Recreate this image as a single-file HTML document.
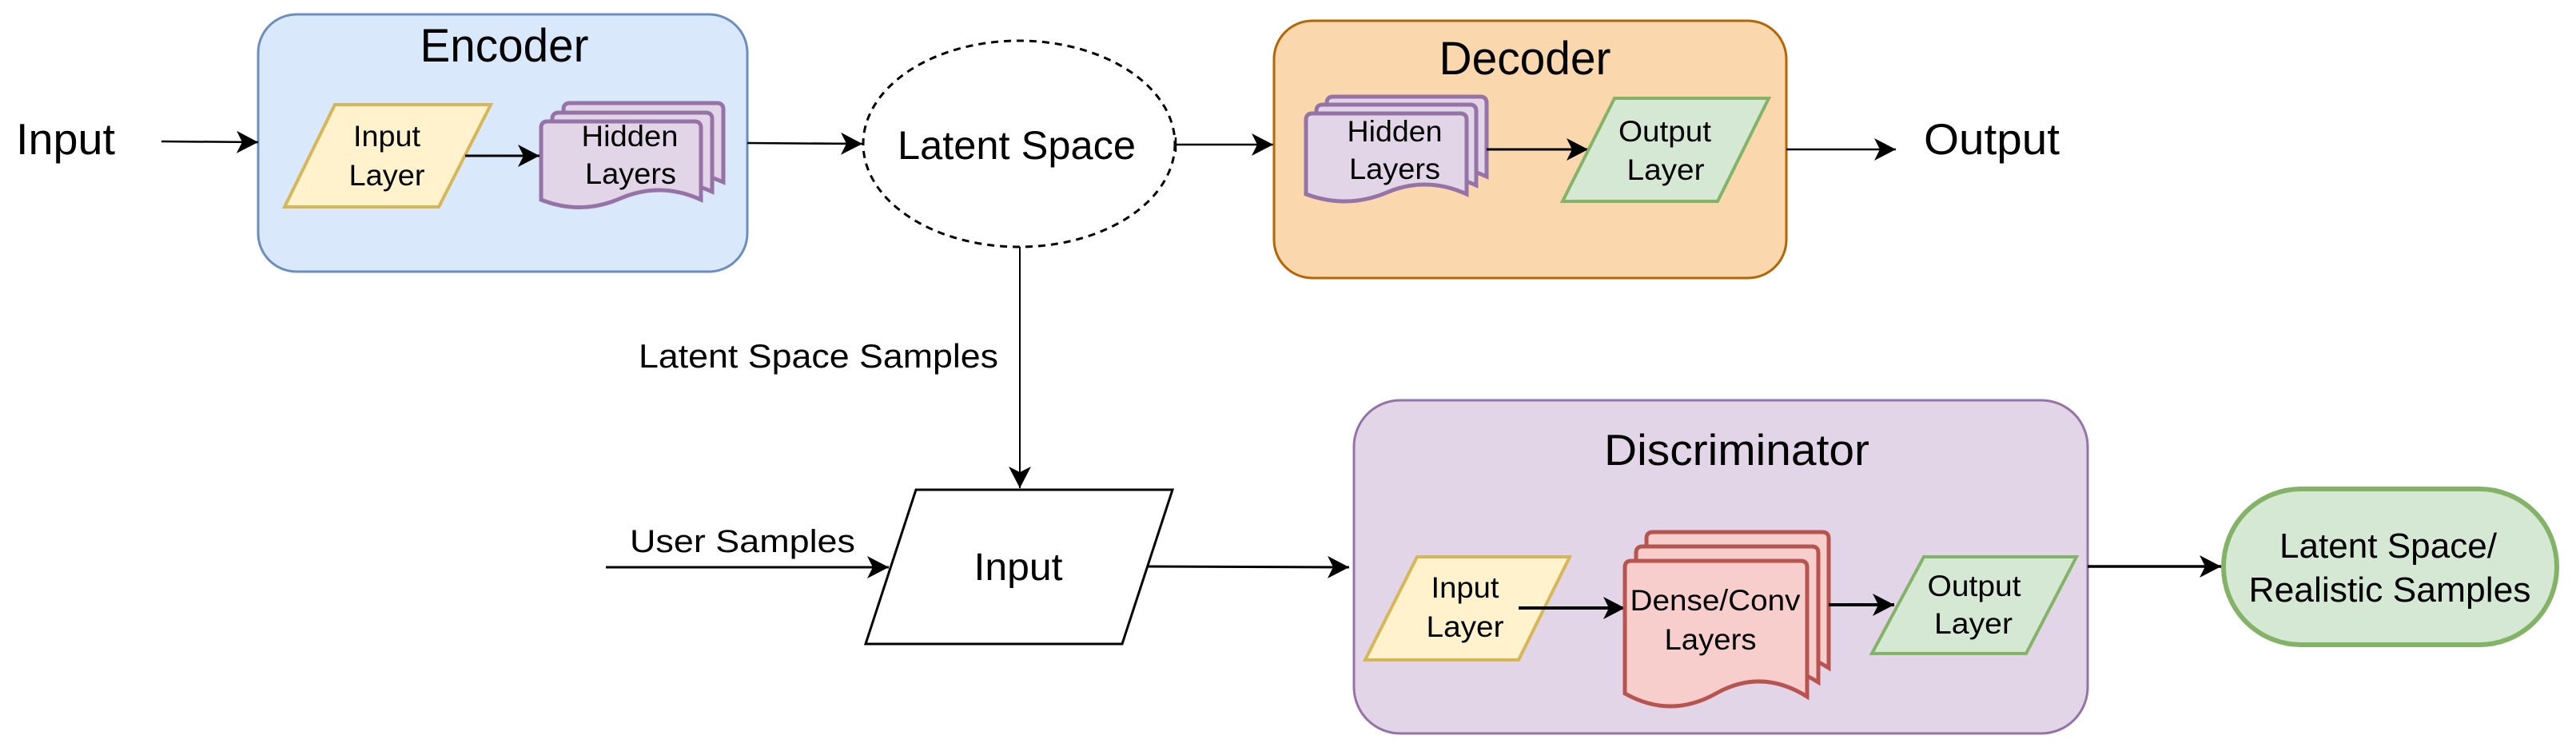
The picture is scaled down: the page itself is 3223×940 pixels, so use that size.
<!DOCTYPE html>
<html><head><meta charset="utf-8"><style>
html,body{margin:0;padding:0;background:#fff;}
svg{display:block}
text{font-family:"Liberation Sans",Arial,sans-serif;fill:#000}
</style></head><body>
<svg width="3223" height="940" viewBox="0 0 3223 940" xmlns="http://www.w3.org/2000/svg">
<defs>
<marker id="ah" markerUnits="userSpaceOnUse" markerWidth="30" markerHeight="30" refX="27" refY="14" orient="auto">
<path d="M0,0 L27,14 L0,28 L7,14 Z" fill="#000"/>
</marker>
</defs>

<!-- Encoder -->
<rect x="323" y="18" width="612" height="322" rx="48" fill="#dae8fc" stroke="#6c8ebf" stroke-width="3"/>
<text x="631" y="77" font-size="58" text-anchor="middle" textLength="211" lengthAdjust="spacingAndGlyphs">Encoder</text>
<polygon points="419,131 614,131 549,259 356,259" fill="#fff2cc" stroke="#d6b656" stroke-width="4"/>
<text x="484" y="183" font-size="37" text-anchor="middle" textLength="84" lengthAdjust="spacingAndGlyphs">Input</text>
<text x="484" y="232" font-size="37" text-anchor="middle" textLength="95" lengthAdjust="spacingAndGlyphs">Layer</text>
<g fill="#e1d5e7" stroke="#9673a6" stroke-width="5">
<path d="M705,137 Q705,129 713,129 L897,129 Q905,129 905,137 L905,228 Q855,205 805,228 Q755,251 705,228 Z"/>
<path d="M691,149 Q691,141 699,141 L883,141 Q891,141 891,149 L891,240 Q841,217 791,240 Q741,263 691,240 Z"/>
<path d="M677,160 Q677,152 685,152 L869,152 Q877,152 877,160 L877,250 Q827,227 777,248 Q727,270 677,250 Z"/>
</g>
<text x="788" y="183" font-size="37" text-anchor="middle" textLength="121" lengthAdjust="spacingAndGlyphs">Hidden</text>
<text x="789" y="230" font-size="37" text-anchor="middle" textLength="114" lengthAdjust="spacingAndGlyphs">Layers</text>
<line x1="582" y1="195" x2="675" y2="195" stroke="#000" stroke-width="3" marker-end="url(#ah)"/>

<!-- Input label + arrow -->
<text x="20" y="193" font-size="55" textLength="124" lengthAdjust="spacingAndGlyphs">Input</text>
<line x1="202" y1="177" x2="323" y2="178" stroke="#000" stroke-width="2.5" marker-end="url(#ah)"/>
<line x1="935" y1="179" x2="1079" y2="180" stroke="#000" stroke-width="2.5" marker-end="url(#ah)"/>

<!-- Latent space -->
<ellipse cx="1275" cy="180" rx="195" ry="129" fill="#fff" stroke="#000" stroke-width="3" stroke-dasharray="9 7"/>
<text x="1272" y="199" font-size="50" text-anchor="middle" textLength="298" lengthAdjust="spacingAndGlyphs">Latent Space</text>
<line x1="1471" y1="181" x2="1593" y2="181" stroke="#000" stroke-width="2.5" marker-end="url(#ah)"/>
<line x1="1471" y1="172" x2="1471" y2="190" stroke="#000" stroke-width="2.5"/>

<!-- Decoder -->
<rect x="1594" y="26" width="641" height="322" rx="48" fill="#fad7ac" stroke="#b46504" stroke-width="3"/>
<text x="1908" y="93" font-size="58" text-anchor="middle" textLength="215" lengthAdjust="spacingAndGlyphs">Decoder</text>
<g fill="#e1d5e7" stroke="#9673a6" stroke-width="5">
<path d="M1660,129 Q1660,121 1668,121 L1852,121 Q1860,121 1860,129 L1860,221 Q1810,198 1760,221 Q1710,244 1660,221 Z"/>
<path d="M1647,139 Q1647,131 1655,131 L1839,131 Q1847,131 1847,139 L1847,232 Q1797,209 1747,232 Q1697,255 1647,232 Z"/>
<path d="M1634,150 Q1634,142 1642,142 L1827,142 Q1835,142 1835,150 L1835,243 Q1785,220 1735,241 Q1685,262 1634,243 Z"/>
</g>
<text x="1745" y="177" font-size="37" text-anchor="middle" textLength="119" lengthAdjust="spacingAndGlyphs">Hidden</text>
<text x="1745" y="224" font-size="37" text-anchor="middle" textLength="114" lengthAdjust="spacingAndGlyphs">Layers</text>
<line x1="1860" y1="187" x2="1987" y2="187" stroke="#000" stroke-width="3" marker-end="url(#ah)"/>
<polygon points="2020,123 2213,123 2149,252 1955,252" fill="#d5e8d4" stroke="#82b366" stroke-width="4"/>
<text x="2083" y="177" font-size="37" text-anchor="middle" textLength="116" lengthAdjust="spacingAndGlyphs">Output</text>
<text x="2084" y="225" font-size="37" text-anchor="middle" textLength="97" lengthAdjust="spacingAndGlyphs">Layer</text>
<line x1="2235" y1="187" x2="2372" y2="187" stroke="#000" stroke-width="2.5" marker-end="url(#ah)"/>
<text x="2407" y="193" font-size="55" textLength="170" lengthAdjust="spacingAndGlyphs">Output</text>

<!-- Vertical connector -->
<line x1="1276" y1="309" x2="1276" y2="611" stroke="#000" stroke-width="2" marker-end="url(#ah)"/>
<text x="799" y="460" font-size="42" textLength="450" lengthAdjust="spacingAndGlyphs">Latent Space Samples</text>

<!-- Input parallelogram -->
<polygon points="1146,613 1467,613 1404,806 1083,806" fill="#fff" stroke="#000" stroke-width="3"/>
<text x="1274" y="726" font-size="48" text-anchor="middle" textLength="111" lengthAdjust="spacingAndGlyphs">Input</text>
<text x="788" y="691" font-size="40" textLength="282" lengthAdjust="spacingAndGlyphs">User Samples</text>
<line x1="758" y1="710" x2="1112" y2="710" stroke="#000" stroke-width="3" marker-end="url(#ah)"/>
<line x1="1436" y1="709" x2="1688" y2="710" stroke="#000" stroke-width="3" marker-end="url(#ah)"/>

<!-- Discriminator -->
<rect x="1694" y="501" width="918" height="417" rx="58" fill="#e1d5e7" stroke="#9673a6" stroke-width="3"/>
<text x="2173" y="582" font-size="55" text-anchor="middle" textLength="332" lengthAdjust="spacingAndGlyphs">Discriminator</text>
<polygon points="1773,697 1964,697 1900,826 1708,826" fill="#fff2cc" stroke="#d6b656" stroke-width="4"/>
<text x="1833" y="748" font-size="37" text-anchor="middle" textLength="85" lengthAdjust="spacingAndGlyphs">Input</text>
<text x="1833" y="797" font-size="37" text-anchor="middle" textLength="97" lengthAdjust="spacingAndGlyphs">Layer</text>
<line x1="1900" y1="761" x2="2033" y2="761" stroke="#000" stroke-width="4" marker-end="url(#ah)"/>
<g fill="#f8cecc" stroke="#b85450" stroke-width="5">
<path d="M2060,674 Q2060,666 2068,666 L2280,666 Q2288,666 2288,674 L2288,836 Q2231,800 2174,836 Q2117,872 2060,836 Z"/>
<path d="M2047,692 Q2047,684 2055,684 L2267,684 Q2275,684 2275,692 L2275,854 Q2218,818 2161,854 Q2104,890 2047,854 Z"/>
<path d="M2033,710 Q2033,702 2041,702 L2253,702 Q2261,702 2261,710 L2261,872 Q2204,836 2147,868 Q2090,900 2033,868 Z"/>
</g>
<text x="2146" y="764" font-size="37" text-anchor="middle" textLength="213" lengthAdjust="spacingAndGlyphs">Dense/Conv</text>
<text x="2140" y="813" font-size="37" text-anchor="middle" textLength="115" lengthAdjust="spacingAndGlyphs">Layers</text>
<line x1="2288" y1="757" x2="2370" y2="757" stroke="#000" stroke-width="4" marker-end="url(#ah)"/>
<polygon points="2407,697 2598,697 2535,818 2342,818" fill="#d5e8d4" stroke="#82b366" stroke-width="4"/>
<text x="2470" y="746" font-size="37" text-anchor="middle" textLength="117" lengthAdjust="spacingAndGlyphs">Output</text>
<text x="2469" y="793" font-size="37" text-anchor="middle" textLength="98" lengthAdjust="spacingAndGlyphs">Layer</text>
<line x1="2612" y1="709" x2="2779" y2="709" stroke="#000" stroke-width="3.5" marker-end="url(#ah)"/>

<!-- Terminal -->
<rect x="2782" y="612" width="417" height="195" rx="97" ry="97" fill="#d5e8d4" stroke="#82b366" stroke-width="6"/>
<text x="2988" y="698" font-size="44" text-anchor="middle" textLength="272" lengthAdjust="spacingAndGlyphs">Latent Space/</text>
<text x="2990" y="753" font-size="44" text-anchor="middle" textLength="353" lengthAdjust="spacingAndGlyphs">Realistic Samples</text>
</svg>
</body></html>
